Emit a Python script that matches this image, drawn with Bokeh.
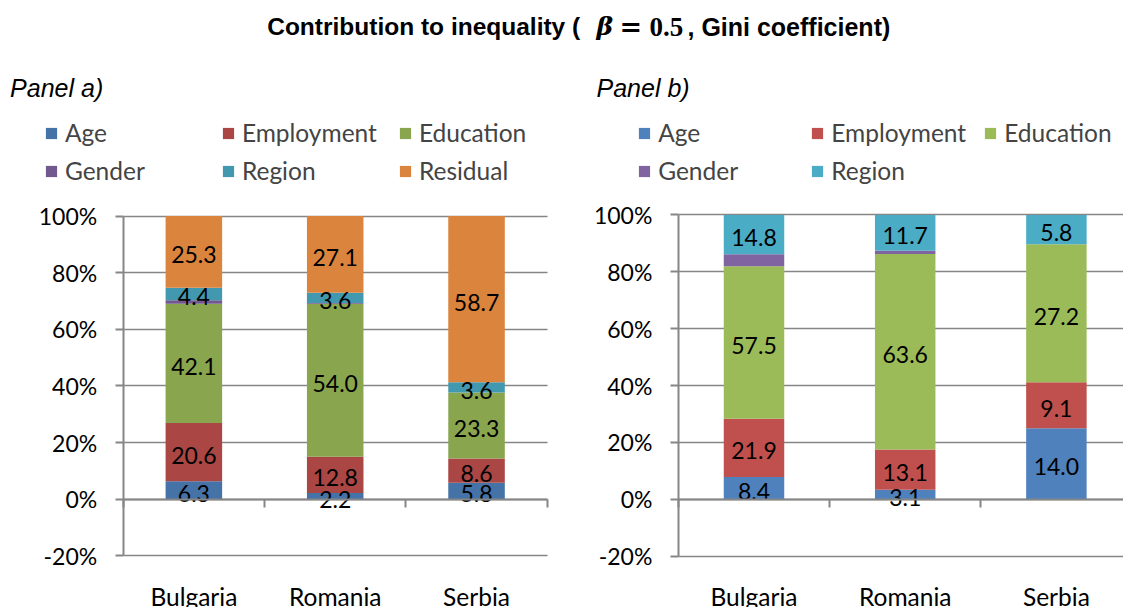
from bokeh.plotting import figure
from bokeh.models import (ColumnDataSource, LinearAxis, FixedTicker, NumeralTickFormatter,
                          Legend, LegendItem, Label, Range1d)
from bokeh.layouts import row
from bokeh.core.properties import value
from bokeh.embed import file_html
from bokeh.resources import INLINE

# ---------------- data ----------------
countries = ["Bulgaria", "Romania", "Serbia"]

series_a = ["Age", "Employment", "Education", "Gender", "Region", "Residual"]
age_a = [6.3, 2.2, 5.8]
employment_a = [20.6, 12.8, 8.6]
education_a = [42.1, 54.0, 23.3]
gender_a = [1.3, 0.3, 0.0]
region_a = [4.4, 3.6, 3.6]
residual_a = [25.3, 27.1, 58.7]

series_b = ["Age", "Employment", "Education", "Gender", "Region"]
age_b = [8.4, 3.1, 14.0]
employment_b = [21.9, 13.1, 9.1]
education_b = [57.5, 63.6, 27.2]
gender_b = [4.5, 1.0, 0.0]
region_b = [14.8, 11.7, 5.8]

unlabelled = ["Gender"]
yticks = [-0.2, 0.0, 0.2, 0.4, 0.6, 0.8, 1.0]

colors_a = ["#4572A7", "#AA4643", "#89A54E", "#71588F", "#4198AF", "#DB843D"]
colors_b = ["#4F81BD", "#C0504D", "#9BBB59", "#8064A2", "#4BACC6"]

# ---------------- style ----------------
FONT = "Lato"
FS_TICK = "23px"
FS_TEXT = "24.5px"
GRAY = "#868686"
FIG_H = 607
LABEL_SHIFT = 9.5   # correction for Label baseline placement


def make_panel(names, values, colors, width, axis_px, pitch, top_px, bot_px, legend_x, label_w):
    x_start = -axis_px / pitch
    x_end = x_start + width / pitch
    scale = (bot_px - top_px) / 1.2
    y_start = -0.2 - (FIG_H - bot_px) / scale
    y_end = 1.0 + top_px / scale
    n_cat = len(countries)

    p = figure(width=width, height=FIG_H, x_range=Range1d(x_start, x_end),
               y_range=Range1d(y_start, y_end),
               toolbar_location=None, output_backend="svg", title=None,
               min_border_left=0, min_border_right=0, min_border_top=0, min_border_bottom=0,
               x_axis_location=None, y_axis_location=None)
    p.outline_line_color = None
    p.background_fill_color = "white"
    p.border_fill_color = "white"
    p.xgrid.visible = False

    xs = [i + 0.5 for i in range(n_cat)]
    totals = [sum(v[i] for v in values) for i in range(n_cat)]
    data = {"x": xs}
    for n, v in zip(names, values):
        data[n] = [v[i] / totals[i] for i in range(n_cat)]
    src = ColumnDataSource(data)
    rends = p.vbar_stack(names, x="x", width=0.4, fill_color=colors, line_color=None, source=src)

    # data labels
    lx, ly, lt = [], [], []
    for i in range(n_cat):
        cum = 0.0
        for n, v in zip(names, values):
            share = v[i] / totals[i]
            if n not in unlabelled and v[i] > 0:
                lx.append(xs[i])
                ly.append(cum + share / 2)
                lt.append(f"{v[i]:.1f}")
            cum += share
    lsrc = ColumnDataSource(dict(x=lx, y=ly, t=lt))
    p.text(x="x", y="y", text="t", source=lsrc, text_font=value(FONT), text_font_size=FS_TICK,
           text_align="center", text_baseline="middle", text_color="black", y_offset=3)

    # y axis at x = 0
    yax = LinearAxis(fixed_location=0, ticker=FixedTicker(ticks=yticks),
                     formatter=NumeralTickFormatter(format="0%"), bounds=(-0.2, 1.0))
    yax.axis_line_color = GRAY
    yax.axis_line_width = 2
    yax.major_tick_line_color = GRAY
    yax.major_tick_line_width = 2
    yax.major_tick_out = 8
    yax.major_tick_in = 0
    yax.minor_tick_line_color = None
    yax.major_label_standoff = 18
    yax.major_label_text_font = FONT
    yax.major_label_text_font_size = FS_TICK
    yax.major_label_text_color = "black"
    p.add_layout(yax, "left")
    p.ygrid.ticker = FixedTicker(ticks=yticks)
    p.ygrid.grid_line_color = GRAY
    p.ygrid.grid_line_width = 1.6
    p.ygrid.cross_bounds = (0, n_cat)

    # x axis line at 0%
    xax0 = LinearAxis(fixed_location=0, ticker=FixedTicker(ticks=list(range(n_cat + 1))),
                      bounds=(0, n_cat))
    xax0.axis_line_color = GRAY
    xax0.axis_line_width = 2
    xax0.major_tick_line_color = GRAY
    xax0.major_tick_line_width = 2
    xax0.major_tick_out = 8
    xax0.major_tick_in = 0
    xax0.minor_tick_line_color = None
    xax0.major_label_text_color = None
    p.add_layout(xax0, "below")

    # category labels at the bottom
    xax = LinearAxis(fixed_location=-0.2, ticker=FixedTicker(ticks=xs),
                     major_label_overrides={x: c for x, c in zip(xs, countries)})
    xax.axis_line_color = None
    xax.major_tick_line_color = None
    xax.major_tick_out = 0
    xax.major_tick_in = 0
    xax.minor_tick_line_color = None
    xax.major_label_standoff = 26
    xax.major_label_text_font = FONT
    xax.major_label_text_font_size = FS_TEXT
    xax.major_label_text_color = "black"
    p.add_layout(xax, "below")

    # legend
    items = [LegendItem(label=n, renderers=[r]) for n, r in zip(names, rends)]
    leg = Legend(items=items, location=(legend_x, 421.7), orientation="horizontal", ncols=3,
                 padding=0, margin=0, spacing=9, glyph_width=14, glyph_height=14,
                 label_standoff=7, label_width=label_w, label_height=26,
                 label_text_font=FONT, label_text_font_size=FS_TEXT,
                 border_line_color=None, background_fill_alpha=0)
    p.add_layout(leg, "center")
    return p


def add_text(p, txt, x, baseline_px, font, style, size):
    p.add_layout(Label(x=x, y=FIG_H - baseline_px + LABEL_SHIFT, x_units="screen", y_units="screen",
                       text=txt, text_font=font, text_font_style=style, text_font_size=size,
                       text_baseline="alphabetic", text_color="black"))


P1_W = 592
P2_W = 1123 - P1_W
p1 = make_panel(series_a, [age_a, employment_a, education_a, gender_a, region_a, residual_a],
                colors_a, width=P1_W, axis_px=122.7, pitch=424 / 3, top_px=215.6, bot_px=555.3,
                legend_x=43.9, label_w=147)
p2 = make_panel(series_b, [age_b, employment_b, education_b, gender_b, region_b],
                colors_b, width=P2_W, axis_px=677.9 - P1_W, pitch=151.2, top_px=214.4, bot_px=555.6,
                legend_x=637.2 - P1_W, label_w=143)

# panel titles
add_text(p1, "Panel a)", 9.6, 96.7, "Liberation Sans", "italic", "25px")
add_text(p2, "Panel b)", 596 - P1_W, 96.7, "Liberation Sans", "italic", "25px")

# main title, split across the two canvases
TB = 35.7
add_text(p1, "Contribution to inequality (", 266.7, TB, "Liberation Sans", "bold", "24.5px")
add_text(p2, "\u03b2", 596 - P1_W, TB, "DejaVu Serif", "bold italic", "25px")
add_text(p2, "=", 619 - P1_W, TB, "DejaVu Serif", "bold", "27px")
add_text(p2, "0.5", 649 - P1_W, TB, "Liberation Serif", "bold", "27px")
add_text(p2, ", Gini coefficient)", 687 - P1_W, TB, "Liberation Sans", "bold", "25px")

layout = row(p1, p2)
open("out.html", "w").write(file_html(layout, INLINE))
